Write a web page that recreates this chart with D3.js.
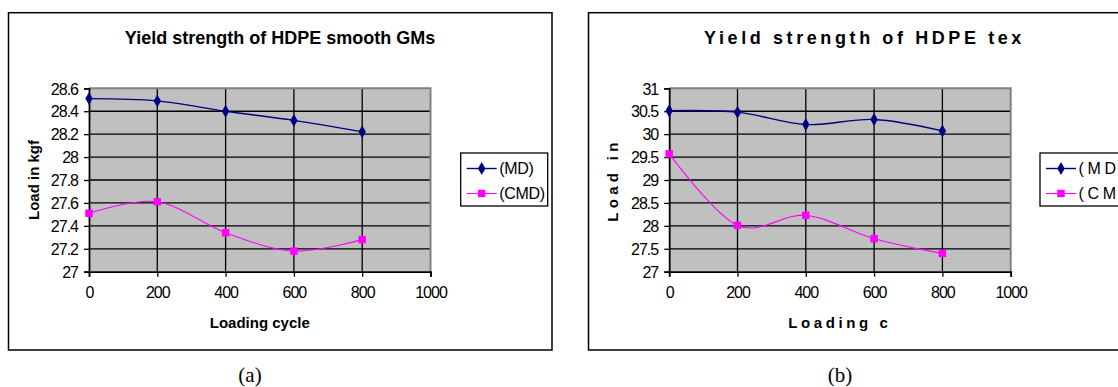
<!DOCTYPE html>
<html>
<head>
<meta charset="utf-8">
<script src="https://cdn.jsdelivr.net/npm/d3@7"></script>
<style>
  body { margin: 0; background: #fff; }
  svg { display: block; }
  text { font-family: "Liberation Sans", Arial, sans-serif; }
</style>
</head>
<body>
<div id="chart"></div>
<script>
// loading cycles (x) and readings
const cycles = [0, 200, 400, 600, 800];
const xTicks = [0, 200, 400, 600, 800, 1000];

const smoothMD = [28.51, 28.49, 28.40, 28.32, 28.22];
const smoothCMD = [27.51, 27.61, 27.34, 27.18, 27.28];
const smoothYTicks = [27, 27.2, 27.4, 27.6, 27.8, 28, 28.2, 28.4, 28.6];

const texMD = [30.51, 30.48, 30.21, 30.32, 30.07];
const texCMD = [29.57, 28.01, 28.23, 27.72, 27.40];
const texYTicks = [27, 27.5, 28, 28.5, 29, 29.5, 30, 30.5, 31];

const seriesNames = ['(MD)', '(CMD)'];

const W = 1118, H = 387;
const svg = d3.select('#chart').append('svg')
	.attr('width', W)
	.attr('height', H);

svg.append('rect').attr('width', W).attr('height', H).attr('fill', '#fff');

function panel(o) {
	const g = svg.append('g');

	// chart area frame
	g.append('rect')
		.attr('x', o.box[0]).attr('y', 12.7)
		.attr('width', o.box[1] - o.box[0]).attr('height', 337.3)
		.attr('fill', '#fff')
		.attr('stroke', '#000')
		.attr('stroke-width', 1.5);

	const x = d3.scaleLinear().domain([0, 1000]).range([o.left, o.left + 341.5]);
	const y = d3.scaleLinear().domain(d3.extent(o.yTicks)).range([271.7, 88.3]);

	// plot area
	g.append('rect')
		.attr('x', x(0)).attr('y', y.range()[1])
		.attr('width', x(1000) - x(0)).attr('height', y.range()[0] - y.range()[1])
		.attr('fill', '#c0c0c0');

	// gridlines
	g.append('g').selectAll('line')
		.data(o.yTicks.slice(1, -1))
		.join('line')
		.attr('x1', x(0)).attr('x2', x(1000))
		.attr('y1', d => y(d)).attr('y2', d => y(d))
		.attr('stroke', '#000').attr('stroke-width', 1.3);
	g.append('g').selectAll('line')
		.data(xTicks.slice(1, -1))
		.join('line')
		.attr('y1', y.range()[0]).attr('y2', y.range()[1])
		.attr('x1', d => x(d)).attr('x2', d => x(d))
		.attr('stroke', '#000').attr('stroke-width', 1.3);

	// top and right border of the plot area
	g.append('path')
		.attr('d', `M${x(0)},${y.range()[1]}H${x(1000)}V${y.range()[0]}`)
		.attr('fill', 'none')
		.attr('stroke', '#808080')
		.attr('stroke-width', 2);

	// axes
	const yAxis = g.append('g')
		.attr('transform', `translate(${x(0)},0)`)
		.call(d3.axisLeft(y).tickValues(o.yTicks).tickSize(5).tickPadding(6).tickFormat(d => String(d)));
	const xAxis = g.append('g')
		.attr('transform', `translate(0,${y.range()[0]})`)
		.call(d3.axisBottom(x).tickValues(xTicks).tickSize(5).tickPadding(10).tickFormat(d => String(d)));
	[yAxis, xAxis].forEach(a => {
		a.select('.domain').attr('stroke', '#000').attr('stroke-width', 1.8);
		a.selectAll('.tick line').attr('stroke', '#000').attr('stroke-width', 1.3);
		a.selectAll('.tick text')
			.attr('fill', '#000')
			.style('font-size', '16px')
			.style('letter-spacing', '-1px')
			.style('font-family', '"Liberation Sans", Arial, sans-serif');
	});
	yAxis.selectAll('.tick text').attr('dy', '0.36em');

	// lines
	const series = [
		{ name: seriesNames[0], values: o.md, color: '#000080', width: 1.4, shape: d3.symbolDiamond, size: 48 },
		{ name: seriesNames[1], values: o.cmd, color: '#ff00ff', width: 1.1, shape: d3.symbolSquare, size: 56 }
	];
	const line = d3.line()
		.x((d, i) => x(cycles[i]))
		.y(d => y(d))
		.curve(d3.curveCardinal.tension(0));

	series.forEach(s => {
		g.append('path')
			.datum(s.values)
			.attr('fill', 'none')
			.attr('stroke', s.color)
			.attr('stroke-width', s.width)
			.attr('d', line);
		g.append('g').selectAll('path')
			.data(s.values)
			.join('path')
			.attr('transform', (d, i) => `translate(${x(cycles[i])},${y(d)})`)
			.attr('d', d3.symbol().type(s.shape).size(s.size))
			.attr('fill', s.color);
	});

	// titles
	g.append('text')
		.attr('x', o.titleX).attr('y', 38).attr('dy', '0.35em')
		.attr('text-anchor', o.titleAnchor)
		.style('font-size', '18px').style('font-weight', 'bold')
		.style('letter-spacing', o.spacing + 'px')
		.text(o.title);

	g.append('text')
		.attr('x', (x(0) + x(1000)) / 2).attr('y', 323).attr('dy', '0.35em')
		.attr('text-anchor', 'middle')
		.style('font-size', '15px').style('font-weight', 'bold')
		.style('letter-spacing', o.spacing + 'px')
		.text(o.xTitle);

	g.append('text')
		.attr('transform', `translate(${o.yTitleX},180) rotate(-90)`)
		.attr('dy', '0.35em')
		.attr('text-anchor', 'middle')
		.style('font-size', '15px').style('font-weight', 'bold')
		.style('letter-spacing', (o.spacing * 1.2) + 'px')
		.text(o.yTitle);

	// legend
	const lg = g.append('g').attr('transform', `translate(${o.legend},153)`);
	lg.append('rect')
		.attr('width', 87).attr('height', 53)
		.attr('fill', '#fff').attr('stroke', '#000').attr('stroke-width', 1.3);
	series.forEach((s, i) => {
		const ly = 15.5 + i * 25;
		lg.append('line')
			.attr('x1', 6).attr('x2', 36).attr('y1', ly).attr('y2', ly)
			.attr('stroke', s.color).attr('stroke-width', s.width);
		lg.append('path')
			.attr('transform', `translate(21,${ly})`)
			.attr('d', d3.symbol().type(s.shape).size(s.size))
			.attr('fill', s.color);
		lg.append('text')
			.attr('x', 38.5).attr('y', ly).attr('dy', '0.36em')
			.style('font-size', '16px')
			.style('letter-spacing', (o.spacing * 1.1 - 0.3) + 'px')
			.text(s.name);
	});

	g.append('text')
		.attr('x', o.caption).attr('y', 375).attr('dy', '0.35em')
		.attr('text-anchor', 'middle')
		.style('font-family', '"Liberation Serif", "Times New Roman", serif')
		.style('font-size', '21px')
		.text(o.captionText);
}

panel({
	box: [8.5, 552], left: 89, yTicks: smoothYTicks, md: smoothMD, cmd: smoothCMD,
	title: 'Yield strength of HDPE smooth GMs', titleX: 280, titleAnchor: 'middle',
	xTitle: 'Loading cycle', yTitle: 'Load in kgf', yTitleX: 34,
	spacing: 0, legend: 460.7, caption: 250, captionText: '(a)'
});

panel({
	box: [588.5, 1128], left: 669.2, yTicks: texYTicks, md: texMD, cmd: texCMD,
	title: 'Yield strength of HDPE tex', titleX: 704, titleAnchor: 'start',
	xTitle: 'Loading c', yTitle: 'Load in', yTitleX: 613,
	spacing: 3.6, legend: 1040, caption: 840, captionText: '(b)'
});
</script>
</body>
</html>
